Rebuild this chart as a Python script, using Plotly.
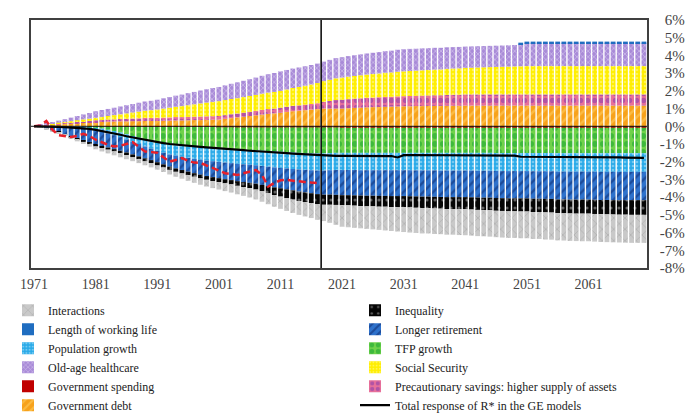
import plotly.graph_objects as go

years = list(range(1971, 2071))

gov_debt = [0.00,0.03,0.06,0.09,0.12,0.14,0.16,0.18,0.20,0.22,
            0.24,0.25,0.26,0.27,0.28,0.28,0.29,0.29,0.30,0.30,
            0.30,0.31,0.32,0.33,0.33,0.34,0.35,0.35,0.36,0.37,
            0.38,0.42,0.46,0.50,0.54,0.58,0.62,0.66,0.70,0.73,
            0.77,0.81,0.85,0.88,0.91,0.94,0.97,1.00,1.00,1.00,
            1.00,1.02,1.04,1.05,1.07,1.08,1.09,1.10,1.11,1.12,
            1.13,1.13,1.14,1.14,1.15,1.15,1.15,1.16,1.16,1.16,
            1.17,1.17,1.17,1.17,1.17,1.17,1.17,1.17,1.17,1.17,
            1.17,1.17,1.17,1.17,1.17,1.17,1.17,1.17,1.17,1.17,
            1.17,1.17,1.17,1.17,1.17,1.17,1.17,1.17,1.17,1.17]

precautionary = [0.00,0.01,0.02,0.03,0.04,0.05,0.06,0.07,0.08,0.09,
                 0.10,0.11,0.12,0.12,0.13,0.14,0.15,0.16,0.17,0.17,
                 0.18,0.18,0.18,0.19,0.19,0.19,0.19,0.20,0.20,0.20,
                 0.20,0.21,0.22,0.22,0.23,0.24,0.25,0.26,0.27,0.27,
                 0.28,0.29,0.30,0.30,0.31,0.32,0.33,0.38,0.43,0.48,
                 0.50,0.51,0.52,0.53,0.54,0.54,0.55,0.56,0.56,0.57,
                 0.57,0.58,0.58,0.59,0.59,0.60,0.60,0.61,0.62,0.62,
                 0.63,0.63,0.63,0.63,0.63,0.63,0.63,0.63,0.63,0.63,
                 0.63,0.63,0.63,0.63,0.63,0.63,0.63,0.63,0.63,0.63,
                 0.63,0.63,0.63,0.63,0.63,0.63,0.63,0.63,0.63,0.63]

gov_spending = [0.00,0.00,0.00,0.00,0.00,0.00,0.00,0.00,0.00,0.00,
                -0.01,-0.01,-0.02,-0.02,-0.02,-0.03,-0.03,-0.03,-0.04,-0.04,
                -0.04,-0.04,-0.04,-0.04,-0.04,-0.04,-0.04,-0.04,-0.04,-0.04,
                -0.05,-0.05,-0.05,-0.06,-0.06,-0.06,-0.06,-0.06,-0.06,-0.06,
                -0.06,-0.06,-0.06,-0.06,-0.06,-0.06,-0.06,-0.06,-0.06,-0.06,
                -0.08,-0.08,-0.08,-0.08,-0.08,-0.08,-0.08,-0.08,-0.08,-0.08,
                -0.08,-0.08,-0.08,-0.08,-0.08,-0.08,-0.08,-0.08,-0.08,-0.08,
                -0.08,-0.08,-0.08,-0.08,-0.08,-0.08,-0.08,-0.08,-0.08,-0.08,
                -0.08,-0.08,-0.08,-0.08,-0.08,-0.08,-0.08,-0.08,-0.08,-0.08,
                -0.08,-0.08,-0.08,-0.08,-0.08,-0.08,-0.08,-0.08,-0.08,-0.08]

social_security = [0.00,0.01,0.02,0.03,0.04,0.05,0.07,0.09,0.11,0.12,
                   0.14,0.17,0.20,0.24,0.27,0.31,0.34,0.38,0.41,0.44,
                   0.47,0.51,0.55,0.58,0.62,0.66,0.70,0.74,0.78,0.81,
                   0.84,0.85,0.86,0.87,0.88,0.89,0.90,0.92,0.93,0.94,
                   0.95,0.98,1.01,1.04,1.07,1.10,1.14,1.17,1.20,1.23,
                   1.25,1.27,1.28,1.30,1.31,1.33,1.34,1.36,1.37,1.39,
                   1.40,1.41,1.42,1.43,1.44,1.45,1.46,1.47,1.48,1.49,
                   1.50,1.51,1.52,1.53,1.54,1.55,1.56,1.57,1.58,1.59,
                   1.60,1.60,1.60,1.60,1.60,1.60,1.60,1.60,1.60,1.60,
                   1.60,1.60,1.60,1.60,1.60,1.60,1.60,1.60,1.60,1.60]

old_age = [0.00,0.03,0.06,0.09,0.12,0.16,0.20,0.24,0.28,0.32,
           0.37,0.39,0.40,0.42,0.44,0.46,0.48,0.50,0.52,0.53,
           0.55,0.58,0.60,0.63,0.65,0.68,0.70,0.73,0.75,0.78,
           0.80,0.83,0.86,0.89,0.92,0.95,0.98,1.01,1.04,1.07,
           1.10,1.10,1.10,1.10,1.10,1.10,1.10,1.10,1.12,1.14,
           1.15,1.16,1.17,1.18,1.19,1.20,1.21,1.22,1.23,1.24,
           1.25,1.25,1.24,1.24,1.23,1.23,1.22,1.22,1.21,1.21,
           1.20,1.20,1.20,1.20,1.20,1.20,1.20,1.20,1.21,1.25,
           1.30,1.30,1.30,1.30,1.30,1.30,1.30,1.30,1.30,1.30,
           1.30,1.30,1.30,1.30,1.30,1.30,1.30,1.30,1.30,1.30]

tfp = [0.00,0.00,0.00,0.00,-0.01,-0.01,-0.02,-0.03,-0.04,-0.06,
       -0.08,-0.12,-0.18,-0.25,-0.33,-0.42,-0.52,-0.62,-0.72,-0.81,
       -0.90,-0.95,-1.00,-1.04,-1.07,-1.10,-1.13,-1.15,-1.17,-1.18,
       -1.19,-1.21,-1.23,-1.25,-1.27,-1.28,-1.30,-1.32,-1.34,-1.36,
       -1.38,-1.40,-1.42,-1.44,-1.45,-1.46,-1.47,-1.47,-1.45,-1.44,
       -1.42,-1.42,-1.42,-1.42,-1.42,-1.42,-1.42,-1.42,-1.42,-1.42,
       -1.42,-1.42,-1.42,-1.42,-1.42,-1.42,-1.42,-1.42,-1.42,-1.42,
       -1.42,-1.42,-1.42,-1.42,-1.42,-1.43,-1.43,-1.43,-1.43,-1.43,
       -1.43,-1.43,-1.43,-1.43,-1.43,-1.44,-1.44,-1.44,-1.44,-1.44,
       -1.44,-1.44,-1.44,-1.44,-1.44,-1.44,-1.44,-1.44,-1.44,-1.44]

population = [0.00,-0.01,-0.02,-0.03,-0.04,-0.05,-0.06,-0.08,-0.10,-0.12,
              -0.14,-0.17,-0.20,-0.23,-0.26,-0.29,-0.32,-0.35,-0.38,-0.41,
              -0.45,-0.50,-0.55,-0.58,-0.61,-0.64,-0.67,-0.70,-0.73,-0.75,
              -0.77,-0.79,-0.80,-0.81,-0.82,-0.83,-0.84,-0.86,-0.88,-0.90,
              -0.91,-0.92,-0.93,-0.94,-0.95,-0.96,-0.97,-0.97,-0.97,-0.97,
              -0.97,-0.97,-0.97,-0.98,-0.98,-0.98,-0.98,-0.98,-0.98,-0.98,
              -0.98,-0.98,-0.99,-0.99,-0.99,-0.99,-1.00,-1.00,-1.00,-1.00,
              -1.00,-1.00,-1.01,-1.01,-1.01,-1.01,-1.02,-1.02,-1.02,-1.02,
              -1.02,-1.03,-1.03,-1.03,-1.03,-1.04,-1.04,-1.04,-1.04,-1.04,
              -1.04,-1.04,-1.05,-1.05,-1.05,-1.05,-1.05,-1.05,-1.05,-1.05]

longer_retirement = [0.00,-0.05,-0.11,-0.18,-0.27,-0.38,-0.48,-0.57,-0.66,-0.74,
                     -0.81,-0.82,-0.80,-0.79,-0.77,-0.74,-0.72,-0.70,-0.67,-0.65,
                     -0.64,-0.66,-0.69,-0.72,-0.75,-0.78,-0.81,-0.84,-0.87,-0.90,
                     -0.92,-0.94,-0.96,-0.98,-1.00,-1.02,-1.04,-1.07,-1.10,-1.13,
                     -1.15,-1.18,-1.21,-1.24,-1.27,-1.30,-1.33,-1.36,-1.38,-1.40,
                     -1.42,-1.42,-1.43,-1.43,-1.44,-1.44,-1.45,-1.45,-1.46,-1.46,
                     -1.46,-1.47,-1.47,-1.48,-1.48,-1.49,-1.49,-1.50,-1.50,-1.50,
                     -1.50,-1.51,-1.51,-1.52,-1.52,-1.53,-1.53,-1.54,-1.54,-1.54,
                     -1.54,-1.55,-1.55,-1.56,-1.56,-1.57,-1.57,-1.58,-1.58,-1.58,
                     -1.58,-1.59,-1.59,-1.59,-1.60,-1.60,-1.60,-1.60,-1.60,-1.60]

working_life = [0.00,0.00,0.00,0.00,0.00,0.00,0.00,0.00,0.00,0.00,
                0.00,0.00,0.00,0.00,0.00,0.00,0.00,0.00,0.00,0.00,
                0.00,0.00,0.00,0.00,0.00,0.00,0.00,0.00,0.00,0.00,
                0.00,0.00,0.00,0.00,0.00,0.00,0.00,0.00,0.00,0.00,
                0.00,0.00,0.00,0.00,0.00,0.00,0.00,0.00,0.00,0.00,
                0.00,0.00,0.00,0.00,0.00,0.00,0.00,0.00,0.00,0.00,
                0.00,0.00,0.00,0.00,0.00,0.00,0.00,0.00,0.00,0.00,
                0.00,0.00,0.00,0.00,0.00,0.00,0.00,0.00,0.00,0.08,
                0.08,0.08,0.08,0.08,0.08,0.08,0.08,0.08,0.08,0.08,
                0.08,0.08,0.08,0.08,0.08,0.08,0.08,0.08,0.08,0.08]

inequality = [0.00,-0.01,-0.02,-0.03,-0.04,-0.05,-0.06,-0.07,-0.08,-0.09,
              -0.10,-0.11,-0.12,-0.13,-0.14,-0.15,-0.16,-0.16,-0.17,-0.17,
              -0.18,-0.18,-0.18,-0.19,-0.19,-0.20,-0.20,-0.21,-0.21,-0.22,
              -0.22,-0.23,-0.24,-0.26,-0.28,-0.30,-0.33,-0.36,-0.40,-0.44,
              -0.47,-0.50,-0.52,-0.54,-0.55,-0.56,-0.57,-0.57,-0.57,-0.57,
              -0.56,-0.57,-0.58,-0.59,-0.60,-0.60,-0.61,-0.61,-0.62,-0.62,
              -0.62,-0.63,-0.64,-0.65,-0.65,-0.66,-0.66,-0.67,-0.67,-0.68,
              -0.68,-0.69,-0.70,-0.70,-0.71,-0.72,-0.72,-0.73,-0.73,-0.74,
              -0.74,-0.75,-0.75,-0.76,-0.77,-0.77,-0.78,-0.78,-0.79,-0.79,
              -0.79,-0.80,-0.80,-0.81,-0.81,-0.82,-0.82,-0.83,-0.83,-0.83]

interactions = [0.00,-0.01,-0.02,-0.03,-0.04,-0.06,-0.08,-0.10,-0.12,-0.14,
                -0.16,-0.19,-0.21,-0.22,-0.23,-0.23,-0.22,-0.22,-0.22,-0.24,
                -0.24,-0.25,-0.26,-0.28,-0.30,-0.32,-0.34,-0.36,-0.38,-0.40,
                -0.42,-0.44,-0.46,-0.48,-0.50,-0.53,-0.56,-0.59,-0.62,-0.65,
                -0.69,-0.72,-0.75,-0.78,-0.81,-0.84,-0.88,-0.92,-1.02,-1.12,
                -1.22,-1.24,-1.25,-1.26,-1.27,-1.30,-1.31,-1.34,-1.35,-1.38,
                -1.41,-1.42,-1.42,-1.43,-1.43,-1.44,-1.44,-1.45,-1.45,-1.46,
                -1.47,-1.47,-1.48,-1.48,-1.49,-1.49,-1.50,-1.50,-1.50,-1.51,
                -1.51,-1.52,-1.52,-1.53,-1.53,-1.54,-1.54,-1.55,-1.55,-1.56,
                -1.56,-1.56,-1.57,-1.57,-1.57,-1.57,-1.58,-1.58,-1.58,-1.58]

total_response = [0.00,0.00,-0.01,-0.02,-0.03,-0.05,-0.07,-0.09,-0.12,-0.15,
                  -0.20,-0.26,-0.33,-0.40,-0.48,-0.56,-0.63,-0.70,-0.77,-0.84,
                  -0.90,-0.95,-1.00,-1.04,-1.07,-1.10,-1.13,-1.16,-1.19,-1.21,
                  -1.23,-1.26,-1.29,-1.32,-1.35,-1.38,-1.41,-1.44,-1.46,-1.48,
                  -1.50,-1.52,-1.54,-1.56,-1.58,-1.60,-1.62,-1.66,-1.67,-1.67,
                  -1.67,-1.67,-1.67,-1.67,-1.67,-1.67,-1.67,-1.67,-1.68,-1.76,
                  -1.63,-1.62,-1.62,-1.62,-1.62,-1.62,-1.62,-1.62,-1.62,-1.62,
                  -1.62,-1.62,-1.62,-1.62,-1.62,-1.62,-1.62,-1.63,-1.66,-1.72,
                  -1.72,-1.72,-1.72,-1.72,-1.72,-1.72,-1.73,-1.73,-1.73,-1.74,
                  -1.74,-1.75,-1.75,-1.75,-1.76,-1.76,-1.77,-1.77,-1.78,-1.78]

observed_years = list(range(1971, 2018))
observed_rstar = [0.00,0.05,0.30,-0.20,-0.50,-0.57,-0.60,-0.55,-0.42,-0.55,
                  -0.76,-0.90,-1.05,-1.14,-1.10,-1.00,-0.90,-1.15,-1.42,-1.45,
                  -1.50,-1.75,-2.00,-1.90,-1.80,-1.95,-2.05,-2.07,-2.20,-2.36,
                  -2.50,-2.65,-2.70,-2.75,-2.65,-2.56,-2.47,-2.75,-3.40,-3.20,
                  -3.05,-3.03,-3.08,-3.13,-3.15,-3.18,-3.20]

x_tick_years = [1971, 1981, 1991, 2001, 2011, 2021, 2031, 2041, 2051, 2061]
y_tick_vals = [6, 5, 4, 3, 2, 1, 0, -1, -2, -3, -4, -5, -6, -7, -8]
y_tick_text = ["\u20046%", "\u20045%", "\u20044%", "\u20043%", "\u20042%", "\u20041%", "\u20040%",
               "-1%", "-2%", "-3%", "-4%", "-5%", "-6%", "-7%", "-8%"]
split_year = 2017.6

# (name, values, bg colour, pattern shape, pattern colour, pattern size, solidity, legend, rank)
series = [
    ("Government debt", gov_debt, "#F7A21B", "/", "#FFD36B", 7, 0.35, "legend", 6),
    ("Precautionary savings: higher supply of assets", precautionary, "#E8709A", ".", "#7A35B0", 7, 0.45, "legend2", 5),
    ("Government spending", gov_spending, "#C00000", "", None, 8, 0.3, "legend", 5),
    ("Social Security", social_security, "#FFEE00", ".", "#FFF9A8", 4, 0.3, "legend2", 4),
    ("Old-age healthcare", old_age, "#A98BD8", "x", "#EFE6FA", 4, 0.35, "legend", 4),
    ("TFP growth", tfp, "#6FD24A", ".", "#0E9F2E", 8, 0.45, "legend2", 3),
    ("Population growth", population, "#2AAAE8", ".", "#BFE7FA", 4, 0.35, "legend", 3),
    ("Longer retirement", longer_retirement, "#2E72CC", "/", "#0B2466", 7, 0.35, "legend2", 2),
    ("Length of working life", working_life, "#1F6DC0", "", None, 8, 0.3, "legend", 2),
    ("Inequality", inequality, "#050505", ".", "#BBBBBB", 8, 0.12, "legend2", 1),
    ("Interactions", interactions, "#C9C9C9", "x", "#8C8C8C", 8, 0.15, "legend", 1),
]

fig = go.Figure()
for name, vals, bg, shape, fg, size, solid, leg, rank in series:
    marker = dict(color=bg, line=dict(width=0))
    if shape:
        marker["pattern"] = dict(shape=shape, bgcolor=bg, fgcolor=fg, size=size,
                                 solidity=solid, fillmode="overlay")
    fig.add_trace(go.Bar(x=years, y=vals, name=name, marker=marker, legend=leg, legendrank=rank))

fig.add_trace(go.Scatter(x=observed_years, y=observed_rstar, mode="lines", name="Observed R*",
                         line=dict(color="#E8202A", width=2.5, dash="7px,4px"), showlegend=False))
fig.add_trace(go.Scatter(x=years, y=total_response, mode="lines", name="Total response of R* in the GE models",
                         line=dict(color="#000000", width=2.2), legend="legend2", legendrank=6))

fig.add_shape(type="line", xref="x", yref="paper", x0=split_year, x1=split_year, y0=0, y1=1,
              line=dict(color="#000000", width=1.5), layer="above")
fig.add_shape(type="line", xref="paper", yref="y", x0=0, x1=1, y0=0, y1=0,
              line=dict(color="#111111", width=1), layer="above")

font_family = "Liberation Serif, Times New Roman, serif"
legend_common = dict(orientation="v", xref="container", yref="container", y=0.284,
                     xanchor="left", yanchor="top", traceorder="normal",
                     font=dict(family=font_family, size=12, color="#222222"),
                     itemwidth=30, bgcolor="rgba(0,0,0,0)")
fig.update_layout(
    width=688, height=413,
    margin=dict(l=31, r=41, t=20, b=145, autoexpand=False),
    paper_bgcolor="white", plot_bgcolor="white",
    barmode="relative", bargap=0.22,
    font=dict(family=font_family, size=14, color="#333333"),
    showlegend=True,
    legend=dict(x=8 / 688, **legend_common),
    legend2=dict(x=355 / 688, **legend_common),
    xaxis=dict(range=[1970.5, 2070.5], tickvals=x_tick_years, ticktext=[str(y) for y in x_tick_years],
               showgrid=False, zeroline=False, ticks="", showline=True, mirror=True,
               linecolor="#404040", linewidth=1.5, ticklabelstandoff=2, automargin=False,
               tickfont=dict(family=font_family, size=14, color="#444444")),
    yaxis=dict(range=[-8, 6], side="right", tickvals=y_tick_vals, ticktext=y_tick_text,
               showgrid=False, zeroline=False, ticks="", showline=True, mirror=True,
               linecolor="#404040", linewidth=1.5, ticklabelstandoff=8, automargin=False,
               tickfont=dict(family=font_family, size=15, color="#444444")),
)

fig.write_html("out.html", config={"displayModeBar": False},
               post_script="document.body.style.margin='0px';document.body.style.overflow='hidden';")
